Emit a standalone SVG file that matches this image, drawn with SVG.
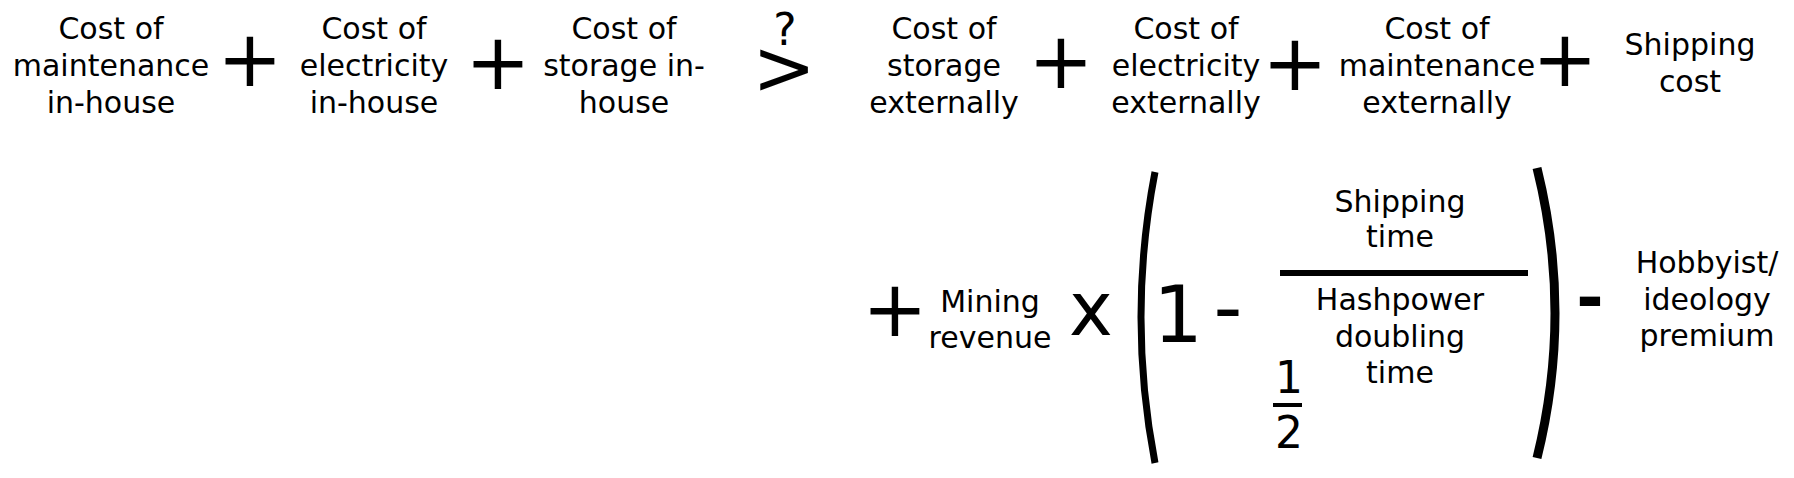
<svg xmlns="http://www.w3.org/2000/svg" width="1794" height="478" viewBox="0 0 1794 478">
<style>
text{font-family:"DejaVu Sans","Liberation Sans",sans-serif;fill:#000;text-anchor:middle}
.t{font-size:30px}
.op{font-size:78px}
.big{font-size:78px}
.half{font-size:44px}
.bar{stroke:#000;fill:none}
</style>
<rect width="1794" height="478" fill="#fff"/>
<g id="maint-in"><text class="t" x="111" y="39">Cost of</text><text class="t" x="111" y="76">maintenance</text><text class="t" x="111" y="113">in-house</text></g>
<g id="plus1"><text class="op" x="250" y="86">+</text></g>
<g id="elec-in"><text class="t" x="374" y="39">Cost of</text><text class="t" x="374" y="76">electricity</text><text class="t" x="374" y="113">in-house</text></g>
<g id="plus2"><text class="op" x="498" y="89">+</text></g>
<g id="stor-in"><text class="t" x="624" y="39">Cost of</text><text class="t" x="624" y="76">storage in-</text><text class="t" x="624" y="113">house</text></g>
<g id="compare"><text x="785" y="45" style="font-size:44px">?</text><text x="784" y="94" style="font-size:76px">&gt;</text></g>
<g id="stor-ext"><text class="t" x="944" y="39">Cost of</text><text class="t" x="944" y="76">storage</text><text class="t" x="944" y="113">externally</text></g>
<g id="plus3"><text class="op" x="1061" y="88">+</text></g>
<g id="elec-ext"><text class="t" x="1186" y="39">Cost of</text><text class="t" x="1186" y="76">electricity</text><text class="t" x="1186" y="113">externally</text></g>
<g id="plus4"><text class="op" x="1295" y="90">+</text></g>
<g id="maint-ext"><text class="t" x="1437" y="39">Cost of</text><text class="t" x="1437" y="76">maintenance</text><text class="t" x="1437" y="113">externally</text></g>
<g id="plus5"><text class="op" x="1565" y="86">+</text></g>
<g id="ship-cost"><text class="t" x="1690" y="55">Shipping</text><text class="t" x="1690" y="92">cost</text></g>
<g id="plus6"><text class="op" x="895" y="336">+</text></g>
<g id="mining"><text class="t" x="990" y="312">Mining</text><text class="t" x="990" y="348">revenue</text></g>
<g id="times"><text x="1091" y="335" style="font-size:74px">x</text></g>
<g id="paren-left"><path class="bar" d="M1155,172 Q1127,317 1155,463" stroke-width="7"/></g>
<g id="one"><text class="big" x="1178" y="342">1</text></g>
<g id="minus1"><text x="1228" y="335" style="font-size:80px">-</text></g>
<g id="fraction">
<text class="t" x="1400" y="212">Shipping</text><text class="t" x="1400" y="247">time</text>
<line class="bar" x1="1280" y1="273" x2="1528" y2="273" stroke-width="6"/>
<text class="t" x="1400" y="310">Hashpower</text><text class="t" x="1400" y="347">doubling</text><text class="t" x="1400" y="383">time</text>
</g>
<g id="half"><text class="half" x="1289" y="393">1</text><line class="bar" x1="1273" y1="405" x2="1302" y2="405" stroke-width="4"/><text class="half" x="1289" y="448">2</text></g>
<g id="paren-right"><path class="bar" d="M1537,168 Q1573,313 1537,458" stroke-width="9"/></g>
<g id="minus2"><text x="1590" y="320" style="font-size:66px;font-weight:bold">-</text></g>
<g id="hobby"><text class="t" x="1707" y="273">Hobbyist/</text><text class="t" x="1707" y="310">ideology</text><text class="t" x="1707" y="346">premium</text></g>
</svg>
